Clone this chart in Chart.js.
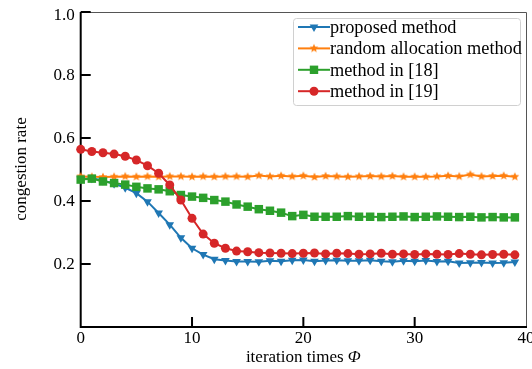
<!DOCTYPE html>
<html>
<head>
<meta charset="utf-8">
<script src="https://cdn.jsdelivr.net/npm/chart.js@4"></script>
<style>
  html, body { margin: 0; padding: 0; background: #fff; }
  #wrap { width: 532px; height: 369px; }
</style>
</head>
<body>
<div id="wrap"><canvas id="c" width="532" height="369"></canvas></div>
<script>
// --- data ---
const iterations = [0,1,2,3,4,5,6,7,8,9,10,11,12,13,14,15,16,17,18,19,20,21,22,23,24,25,26,27,28,29,30,31,32,33,34,35,36,37,38,39];
const proposed = [0.470,0.472,0.465,0.455,0.442,0.425,0.398,0.362,0.325,0.283,0.250,0.230,0.215,0.211,0.208,0.208,0.207,0.210,0.209,0.212,0.213,0.209,0.211,0.212,0.210,0.210,0.212,0.209,0.207,0.210,0.209,0.211,0.208,0.209,0.203,0.204,0.205,0.203,0.204,0.206];
const randomAlloc = [0.478,0.477,0.476,0.477,0.478,0.477,0.478,0.477,0.478,0.478,0.477,0.478,0.477,0.478,0.478,0.477,0.481,0.478,0.480,0.478,0.480,0.476,0.479,0.478,0.477,0.478,0.479,0.478,0.479,0.477,0.477,0.477,0.478,0.480,0.478,0.484,0.478,0.479,0.480,0.477];
const method18 = [0.468,0.471,0.462,0.457,0.452,0.445,0.440,0.437,0.431,0.419,0.414,0.410,0.403,0.398,0.389,0.382,0.374,0.369,0.363,0.352,0.356,0.350,0.350,0.350,0.352,0.350,0.350,0.349,0.350,0.351,0.349,0.350,0.351,0.350,0.349,0.350,0.348,0.349,0.348,0.348];
const method19 = [0.564,0.557,0.553,0.549,0.542,0.530,0.512,0.488,0.451,0.403,0.345,0.295,0.266,0.250,0.241,0.239,0.236,0.235,0.234,0.233,0.234,0.235,0.232,0.234,0.233,0.231,0.232,0.234,0.231,0.232,0.230,0.232,0.231,0.230,0.233,0.231,0.229,0.230,0.231,0.229];
const seriesNames = ['proposed method','random allocation method','method in [18]','method in [19]'];
const xTicks = [0,10,20,30,40];
const yTicks = [0.2,0.4,0.6,0.8,1.0];

const BLUE = '#1f77b4', ORANGE = '#ff7f0e', GREEN = '#2ca02c', RED = '#d62728';
const FONT = "'Liberation Serif', serif";
Chart.defaults.font.family = FONT;
Chart.defaults.color = '#000';

// filled star marker (Chart.js 'star' is only an asterisk)
function makeStar(color, r){
  const c = document.createElement('canvas');
  const s = Math.ceil(r*2+2);
  c.width = s; c.height = s;
  const g = c.getContext('2d');
  g.fillStyle = color;
  g.beginPath();
  for(let i=0;i<10;i++){
    const rad = i%2===0 ? r : r*0.45;
    const a = -Math.PI/2 + i*Math.PI/5;
    const px = s/2 + rad*Math.cos(a), py = s/2 + rad*Math.sin(a);
    i===0 ? g.moveTo(px,py) : g.lineTo(px,py);
  }
  g.closePath(); g.fill();
  return c;
}
const starImg = makeStar(ORANGE, 4.6);

function marker(ctx, style, color, x, y){
  ctx.save();
  ctx.fillStyle = color;
  ctx.beginPath();
  if(style==='tri'){
    const r = 5;
    ctx.moveTo(x - r*0.866, y - r*0.5);
    ctx.lineTo(x + r*0.866, y - r*0.5);
    ctx.lineTo(x, y + r);
    ctx.closePath(); ctx.fill();
  } else if(style==='star'){
    ctx.drawImage(starImg, x - starImg.width/2, y - starImg.height/2);
  } else if(style==='rect'){
    ctx.rect(x-4.2, y-4.2, 8.4, 8.4); ctx.fill();
  } else {
    ctx.arc(x, y, 4.5, 0, Math.PI*2); ctx.fill();
  }
  ctx.restore();
}

// axes frame, inward ticks, tick labels, titles, legend
const framePlugin = {
  id: 'frame',
  beforeDatasetsDraw(chart){
    const {ctx, chartArea: a, scales} = chart;
    ctx.save();
    ctx.strokeStyle = '#555'; ctx.lineWidth = 1;
    ctx.beginPath();
    ctx.moveTo(a.left, a.top+0.5); ctx.lineTo(a.right+0.5, a.top+0.5); ctx.lineTo(a.right+0.5, a.bottom);
    ctx.stroke();
    ctx.strokeStyle = '#000'; ctx.lineWidth = 2;
    ctx.beginPath();
    ctx.moveTo(a.left, a.top); ctx.lineTo(a.left, a.bottom); ctx.lineTo(a.right+1, a.bottom);
    ctx.stroke();
    ctx.beginPath();
    yTicks.forEach(v => {
      const py = scales.y.getPixelForValue(v);
      ctx.moveTo(a.left, py); ctx.lineTo(a.left+10, py);
    });
    xTicks.slice(1,-1).forEach(v => {
      const px = scales.x.getPixelForValue(v);
      ctx.moveTo(px, a.bottom); ctx.lineTo(px, a.bottom-10);
    });
    ctx.stroke();

    // tick labels
    ctx.fillStyle = '#000';
    ctx.font = '17px ' + FONT;
    ctx.textAlign = 'right'; ctx.textBaseline = 'middle';
    yTicks.forEach(v => {
      const py = scales.y.getPixelForValue(v);
      ctx.fillText(v.toFixed(1), a.left - 6, Math.max(py, 15) + 1);
    });
    ctx.textAlign = 'center'; ctx.textBaseline = 'middle';
    xTicks.forEach(v => {
      const px = scales.x.getPixelForValue(v);
      ctx.fillText(String(v), px, 339);
    });
    ctx.restore();
  },
  afterDraw(chart){
    const {ctx, chartArea: a} = chart;
    ctx.save();
    ctx.fillStyle = '#000';
    // x title with italic Phi
    ctx.font = '17px ' + FONT;
    ctx.textBaseline = 'alphabetic';
    const t1 = 'iteration times ';
    const w1 = ctx.measureText(t1).width;
    ctx.font = 'italic 17px ' + FONT;
    const w2 = ctx.measureText('\u03A6').width;
    const cx = (a.left + a.right)/2;
    const sx = cx - (w1+w2)/2;
    ctx.font = '17px ' + FONT;
    ctx.fillText(t1, sx, 362);
    ctx.font = 'italic 17px ' + FONT;
    ctx.fillText('\u03A6', sx + w1, 362);
    // y title
    ctx.font = '17px ' + FONT;
    ctx.translate(22, 169);
    ctx.rotate(-Math.PI/2);
    ctx.textAlign = 'center'; ctx.textBaseline = 'middle';
    ctx.fillText('congestion rate', 0, 0);
    ctx.restore();

    // legend
    ctx.save();
    const bx = 293, by = 18, bw = 227, bh = 87;
    ctx.fillStyle = 'rgba(255,255,255,0.85)';
    ctx.strokeStyle = '#d0d0d0'; ctx.lineWidth = 1;
    ctx.beginPath();
    ctx.roundRect(bx+0.5, by+0.5, bw, bh, 3);
    ctx.fill(); ctx.stroke();
    const styles = ['tri','star','rect','circ'];
    const cols = [BLUE, ORANGE, GREEN, RED];
    ctx.font = '18.3px ' + FONT;
    ctx.textBaseline = 'middle';
    seriesNames.forEach((n,i) => {
      const yy = 27 + i*21.4;
      ctx.strokeStyle = cols[i]; ctx.lineWidth = 2;
      ctx.beginPath(); ctx.moveTo(298, yy); ctx.lineTo(330, yy); ctx.stroke();
      marker(ctx, styles[i], cols[i], 314, yy);
      ctx.fillStyle = '#000';
      ctx.fillText(n, 330, yy+1);
    });
    ctx.restore();
  }
};

const ctx = document.getElementById('c').getContext('2d');
new Chart(ctx, {
  type: 'line',
  data: {
    labels: iterations,
    datasets: [
      {label: seriesNames[0], data: proposed, borderColor: BLUE, backgroundColor: BLUE, pointStyle: 'triangle', rotation: 180, pointRadius: 5, order: 3},
      {label: seriesNames[1], data: randomAlloc, borderColor: ORANGE, backgroundColor: ORANGE, pointStyle: starImg, order: 2},
      {label: seriesNames[2], data: method18, borderColor: GREEN, backgroundColor: GREEN, pointStyle: 'rect', pointRadius: 6, order: 1},
      {label: seriesNames[3], data: method19, borderColor: RED, backgroundColor: RED, pointStyle: 'circle', pointRadius: 4.5, order: 0}
    ].map(d => Object.assign({borderWidth: 2, pointBorderWidth: 0, tension: 0, clip: false, pointHoverRadius: 0}, d))
  },
  options: {
    responsive: false,
    animation: false,
    events: [],
    layout: {padding: {top: 12, right: 6, left: 0, bottom: 0}},
    plugins: {legend: {display: false}, tooltip: {enabled: false}},
    scales: {
      x: {
        type: 'linear', min: 0, max: 40,
        grid: {display: false}, border: {display: false},
        afterBuildTicks: s => { s.ticks = xTicks.map(v => ({value: v})); },
        ticks: {display: false},
        afterFit: s => { s.height = 42; s.paddingLeft = 0; s.paddingRight = 0; }
      },
      y: {
        min: 0, max: 1,
        grid: {display: false}, border: {display: false},
        afterBuildTicks: s => { s.ticks = yTicks.map(v => ({value: v})); },
        ticks: {display: false},
        afterFit: s => { s.width = 80.7; s.paddingTop = 0; s.paddingBottom = 0; }
      }
    }
  },
  plugins: [framePlugin]
});
</script>
</body>
</html>
